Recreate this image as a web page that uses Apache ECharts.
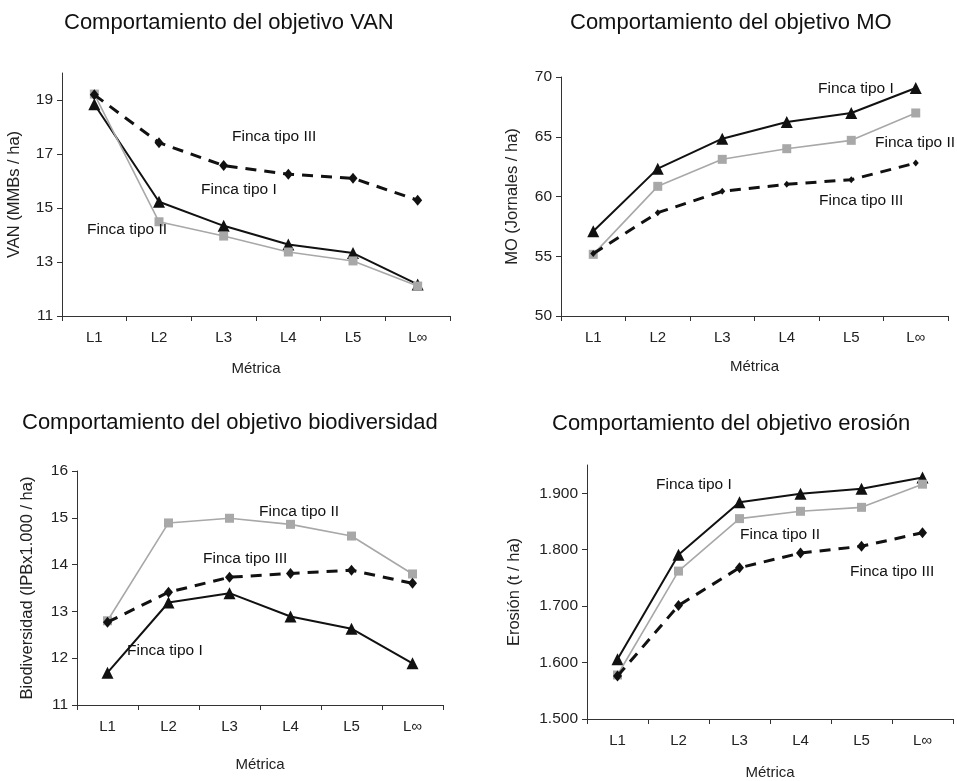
<!DOCTYPE html>
<html>
<head>
<meta charset="utf-8">
<script src="https://cdn.jsdelivr.net/npm/echarts@6/dist/echarts.min.js"></script>
<style>
html,body{margin:0;padding:0;background:#fff;}
#c{width:957px;height:781px;}
</style>
</head>
<body>
<div id="c"></div>
<script>
const categories = ['L1', 'L2', 'L3', 'L4', 'L5', 'L\u221E'];
const seriesNames = ['Finca tipo I', 'Finca tipo II', 'Finca tipo III'];

const vanI   = [18.84, 15.23, 14.34, 13.65, 13.33, 12.17];
const vanII  = [19.22, 14.49, 13.96, 13.37, 13.04, 12.11];
const vanIII = [19.19, 17.42, 16.57, 16.25, 16.10, 15.29];

const moI   = [57.09, 62.33, 64.84, 66.23, 66.99, 69.08];
const moII  = [55.16, 60.85, 63.11, 64.00, 64.70, 66.99];
const moIII = [55.22, 58.65, 60.43, 61.02, 61.41, 62.80];

const bioI   = [11.69, 13.19, 13.39, 12.89, 12.63, 11.89];
const bioII  = [12.80, 14.89, 14.99, 14.86, 14.61, 13.80];
const bioIII = [12.77, 13.41, 13.73, 13.81, 13.88, 13.60];

const eroI   = [1606, 1791, 1884, 1899, 1908, 1928];
const eroII  = [1578, 1762, 1855, 1868, 1875, 1916];
const eroIII = [1576, 1701, 1768, 1794, 1806, 1830];

const vanTicks = [11, 13, 15, 17, 19];
const moTicks = [50, 55, 60, 65, 70];
const bioTicks = [11, 12, 13, 14, 15, 16];
const eroTicks = [1500, 1600, 1700, 1800, 1900];

const titles = [
  'Comportamiento del objetivo VAN',
  'Comportamiento del objetivo MO',
  'Comportamiento del objetivo biodiversidad',
  'Comportamiento del objetivo erosi\u00f3n'
];
const yNames = ['VAN (MMBs / ha)', 'MO (Jornales / ha)', 'Biodiversidad (IPBx1.000 / ha)', 'Erosi\u00f3n (t / ha)'];
const xName = 'M\u00e9trica';

const FONT = '"Liberation Sans", Arial, Helvetica, sans-serif';
const AX = '#333';
const BLACK = '#111';
const GREY = '#a8a8a8';

const chart = echarts.init(document.getElementById('c'), null, {renderer: 'canvas'});

const grids = [
  {left: 62, top: 73, width: 388, height: 243},
  {left: 561, top: 77, width: 387, height: 239},
  {left: 77, top: 471, width: 366, height: 234},
  {left: 587, top: 465, width: 366, height: 254}
];
const yCfg = [
  {min: 11, max: 20, interval: 1, ticks: vanTicks, fmt: v => String(v), nameGap: 39},
  {min: 50, max: 70, interval: 5, ticks: moTicks, fmt: v => String(v), nameGap: 40},
  {min: 11, max: 16, interval: 1, ticks: bioTicks, fmt: v => String(v), nameGap: 41},
  {min: 1500, max: 1950, interval: 50, ticks: eroTicks,
   fmt: v => Math.floor(v / 1000) + '.' + String(v % 1000).padStart(3, '0'), nameGap: 64}
];
const xNameGap = [45, 43, 52, 46];

const xAxis = grids.map((g, i) => ({
  type: 'category', gridIndex: i, data: categories, boundaryGap: true,
  name: xName, nameLocation: 'middle', nameGap: xNameGap[i],
  nameTextStyle: {fontFamily: FONT, fontSize: 15, color: '#222'},
  axisLine: {show: true, lineStyle: {color: AX, width: 1}},
  axisTick: {show: true, length: 5, alignWithLabel: false, lineStyle: {color: AX}},
  axisLabel: {fontFamily: FONT, fontSize: 15, color: '#222', margin: 14},
  splitLine: {show: false}
}));
const yAxis = grids.map((g, i) => ({
  type: 'value', gridIndex: i, min: yCfg[i].min, max: yCfg[i].max, interval: yCfg[i].interval,
  name: yNames[i], nameLocation: 'middle', nameGap: yCfg[i].nameGap, nameRotate: 90,
  nameTextStyle: {fontFamily: FONT, fontSize: 16.5, color: '#222'},
  axisLine: {show: true, lineStyle: {color: AX, width: 1}},
  axisTick: {show: true, length: 5, inside: false, customValues: yCfg[i].ticks, lineStyle: {color: AX}},
  axisLabel: {fontFamily: FONT, fontSize: 15.5, color: '#222', margin: 9,
              customValues: yCfg[i].ticks, formatter: yCfg[i].fmt},
  splitLine: {show: false}
}));

const data = [[vanI, vanII, vanIII], [moI, moII, moIII], [bioI, bioII, bioIII], [eroI, eroII, eroIII]];
const series = [];
data.forEach((set, i) => {
  series.push({
    name: seriesNames[0], type: 'line', xAxisIndex: i, yAxisIndex: i, data: set[0],
    symbol: 'triangle', symbolSize: 12, showAllSymbol: true,
    lineStyle: {color: BLACK, width: 2}, itemStyle: {color: BLACK}, z: 2, animation: false
  });
  series.push({
    name: seriesNames[1], type: 'line', xAxisIndex: i, yAxisIndex: i, data: set[1],
    symbol: 'rect', symbolSize: 9, showAllSymbol: true,
    lineStyle: {color: GREY, width: 1.6}, itemStyle: {color: GREY}, z: 3, animation: false
  });
  series.push({
    name: seriesNames[2], type: 'line', xAxisIndex: i, yAxisIndex: i, data: set[2],
    symbol: 'diamond', symbolSize: i === 1 ? [6, 7] : [9, 11], showAllSymbol: true,
    lineStyle: {color: BLACK, width: 3, type: [11, 8]}, itemStyle: {color: BLACK}, z: 4, animation: false
  });
});

const titlePos = [
  {left: 64, top: 12}, {left: 570, top: 12}, {left: 22, top: 412}, {left: 552, top: 413}
];
const title = titles.map((t, i) => ({
  text: t, left: titlePos[i].left, top: titlePos[i].top, padding: 0,
  textStyle: {fontFamily: FONT, fontSize: 22, fontWeight: 'normal', color: '#111'}
}));

const labelPos = [
  [232, 138, 2], [201, 191, 0], [87, 231, 1],
  [818, 90, 0], [875, 144, 1], [819, 202, 2],
  [259, 513, 1], [203, 560, 2], [127, 652, 0],
  [656, 486, 0], [740, 536, 1], [850, 573, 2]
];
const graphic = labelPos.map(p => ({
  type: 'text', left: p[0], top: p[1] - 9, z: 10,
  style: {text: seriesNames[p[2]], font: '15.5px ' + FONT, fill: '#111'}
}));

chart.setOption({
  animation: false,
  backgroundColor: '#fff',
  title: title,
  grid: grids.map(g => Object.assign({containLabel: false}, g)),
  xAxis: xAxis,
  yAxis: yAxis,
  series: series,
  graphic: graphic
});
</script>
</body>
</html>
